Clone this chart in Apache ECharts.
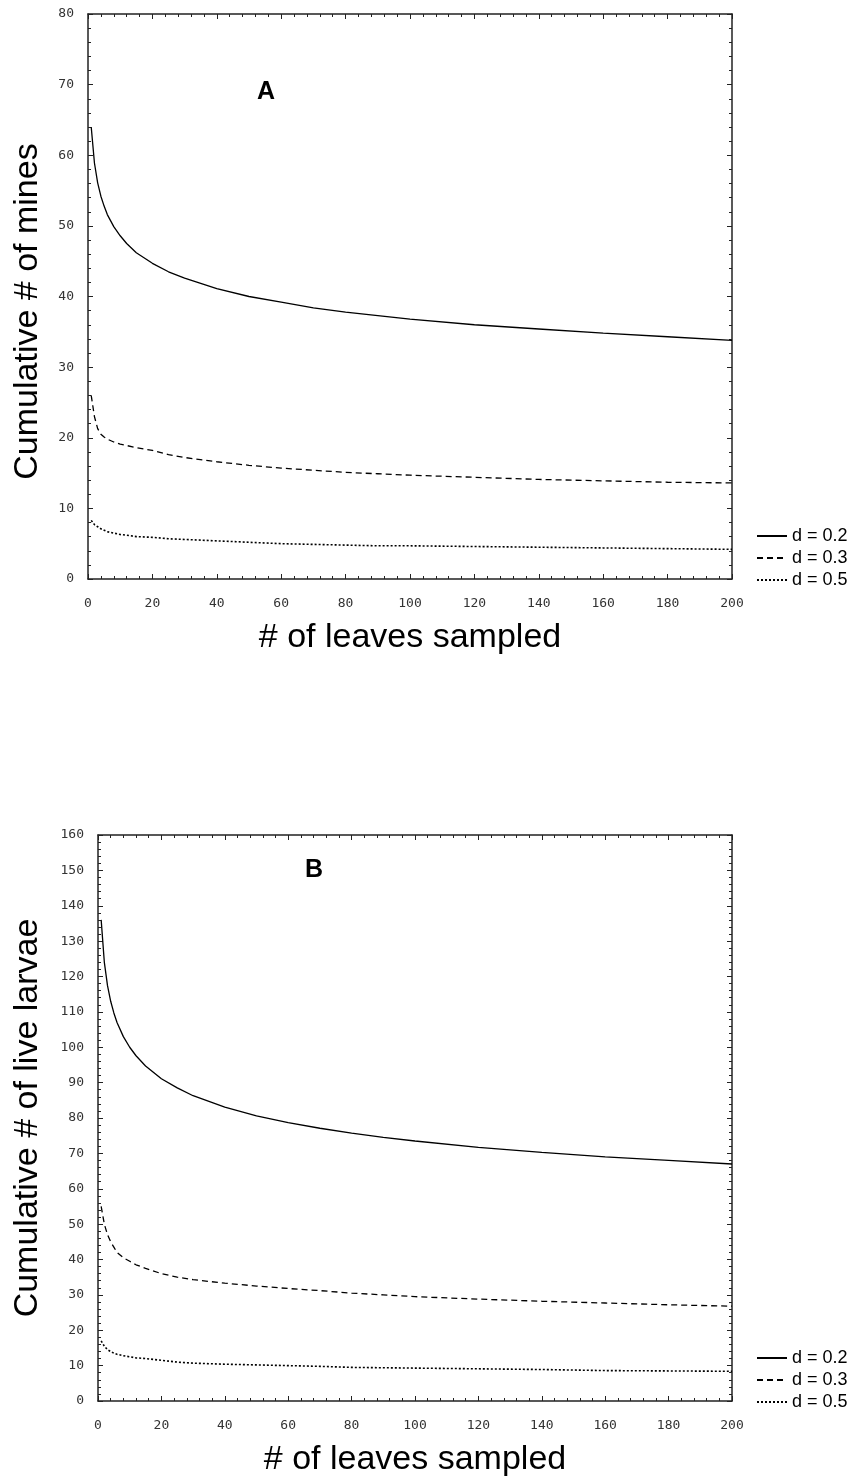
<!DOCTYPE html>
<html>
<head>
<meta charset="utf-8">
<title>Cumulative mines / larvae</title>
<script src="https://cdn.jsdelivr.net/npm/echarts@6/dist/echarts.min.js"></script>
<style>
  html, body { margin: 0; padding: 0; background: #fff; }
  #chart { width: 859px; height: 1479px; }
</style>
</head>
<body>
<div id="chart"></div>
<script>
// x: number of leaves sampled
var leaves = [1, 2, 3, 4, 5, 6, 8, 10, 12, 15, 20, 25, 30, 40, 50, 60, 70, 80, 90, 100, 120, 140, 160, 180, 200];

// panel A - cumulative # of mines
var minesD02 = [64.0, 58.9, 56.1, 54.2, 52.8, 51.6, 49.9, 48.6, 47.5, 46.2, 44.7, 43.5, 42.6, 41.1, 40.0, 39.2, 38.4, 37.8, 37.3, 36.8, 36.0, 35.4, 34.8, 34.3, 33.8];
var minesD03 = [26.0, 23.0, 21.3, 20.5, 20.1, 19.8, 19.4, 19.1, 18.9, 18.6, 18.2, 17.6, 17.2, 16.6, 16.1, 15.7, 15.4, 15.1, 14.9, 14.7, 14.4, 14.1, 13.9, 13.7, 13.6];
var minesD05 = [8.3, 7.7, 7.4, 7.1, 6.9, 6.7, 6.5, 6.3, 6.2, 6.0, 5.9, 5.7, 5.6, 5.4, 5.2, 5.0, 4.9, 4.8, 4.7, 4.7, 4.6, 4.5, 4.4, 4.3, 4.2];

// panel B - cumulative # of live larvae
var larvaeD02 = [136.0, 124.0, 117.4, 113.0, 109.7, 107.0, 103.0, 100.0, 97.6, 94.7, 91.1, 88.5, 86.3, 83.1, 80.6, 78.7, 77.1, 75.7, 74.5, 73.5, 71.7, 70.3, 69.0, 68.0, 67.0];
var larvaeD03 = [55, 50, 47, 45, 43.5, 42, 40.5, 39.5, 38.5, 37.5, 36, 35, 34.3, 33.3, 32.5, 31.8, 31.2, 30.5, 30.0, 29.5, 28.8, 28.2, 27.7, 27.2, 26.8];
var larvaeD05 = [17, 15.5, 14.5, 14, 13.5, 13.2, 12.8, 12.5, 12.2, 12.0, 11.5, 11.0, 10.7, 10.4, 10.2, 10.0, 9.8, 9.5, 9.4, 9.3, 9.1, 8.9, 8.6, 8.5, 8.4];

var seriesNames = ['d = 0.2', 'd = 0.3', 'd = 0.5'];

function pairs(xs, ys) {
  return xs.map(function (x, i) { return [x, ys[i]]; });
}

var axisColor = '#222';
var tickFont = { fontFamily: 'DejaVu Sans Mono', fontSize: 13, color: '#333' };

// line styles: solid / dashed / dotted
var styles = [
  { color: '#000', width: 1.3, type: 'solid' },
  { color: '#000', width: 1.3, type: [6, 4] },
  { color: '#000', width: 1.6, type: [2, 2] }
];

function xAxisPair(gridIndex) {
  var base = {
    type: 'value', gridIndex: gridIndex, min: 0, max: 200, interval: 20,
    splitLine: { show: false },
    axisLine: { show: true, onZero: false, lineStyle: { color: axisColor, width: 1.5 } },
    axisTick: { show: true, inside: true, length: 5, lineStyle: { color: axisColor } },
    minorTick: { show: true, splitNumber: 5, length: 3, lineStyle: { color: axisColor } }
  };
  var bottom = Object.assign({}, base, {
    position: 'bottom',
    axisLabel: Object.assign({ margin: 18 }, tickFont),
    name: '# of leaves sampled',
    nameLocation: 'middle',
    nameGap: 42,
    nameTextStyle: { fontFamily: 'Liberation Sans', fontSize: 34, color: '#000' }
  });
  var top = Object.assign({}, base, { position: 'top', axisLabel: { show: false } });
  return [bottom, top];
}

function yAxisPair(gridIndex, max, name, gap, shift) {
  var base = {
    type: 'value', gridIndex: gridIndex, min: 0, max: max, interval: 10,
    splitLine: { show: false },
    axisLine: { show: true, onZero: false, lineStyle: { color: axisColor, width: 1.5 } },
    axisTick: { show: true, inside: true, length: 5, lineStyle: { color: axisColor } },
    minorTick: { show: true, splitNumber: 5, length: 3, lineStyle: { color: axisColor } }
  };
  var left = Object.assign({}, base, {
    position: 'left',
    axisLabel: Object.assign({ margin: 14 }, tickFont),
    name: name,
    nameLocation: 'middle',
    nameGap: gap,
    // right padding pushes the rotated title down a bit
    nameTextStyle: { fontFamily: 'Liberation Sans', fontSize: 34, color: '#000', padding: [0, shift, 0, 0] }
  });
  var right = Object.assign({}, base, { position: 'right', axisLabel: { show: false } });
  return [left, right];
}

function makeSeries(gridIdx, dataList) {
  return dataList.map(function (ys, i) {
    return {
      name: seriesNames[i],
      type: 'line',
      xAxisIndex: gridIdx * 2,
      yAxisIndex: gridIdx * 2,
      symbol: 'none',
      smooth: false,
      lineStyle: styles[i],
      itemStyle: { color: '#000' },
      data: pairs(leaves, ys)
    };
  });
}

var legendText = { fontFamily: 'Liberation Sans', fontSize: 18, color: '#000' };

function makeLegend(top) {
  return {
    data: seriesNames, orient: 'vertical', left: 756, top: top, padding: 0,
    itemWidth: 30, itemHeight: 14, itemGap: 4, textStyle: legendText,
    itemStyle: { opacity: 0 }   // hide the symbol, keep the line
  };
}

var chart = echarts.init(document.getElementById('chart'), null, { renderer: 'canvas' });

chart.setOption({
  backgroundColor: '#fff',
  animation: false,
  title: [
    { text: 'A', left: 257, top: 80, padding: 0,
      textStyle: { fontFamily: 'Liberation Sans', fontWeight: 'bold', fontSize: 25, color: '#000' } },
    { text: 'B', left: 305, top: 858, padding: 0,
      textStyle: { fontFamily: 'Liberation Sans', fontWeight: 'bold', fontSize: 25, color: '#000' } }
  ],
  legend: [makeLegend(527), makeLegend(1349)],
  grid: [
    { left: 88, right: 127, top: 14, height: 565 },
    { left: 98, right: 127, top: 835, height: 566 }
  ],
  xAxis: xAxisPair(0).concat(xAxisPair(1)),
  yAxis: yAxisPair(0, 80, 'Cumulative # of mines', 43, 30)
    .concat(yAxisPair(1, 160, 'Cumulative # of live larvae', 53, 0)),
  series: makeSeries(0, [minesD02, minesD03, minesD05])
    .concat(makeSeries(1, [larvaeD02, larvaeD03, larvaeD05]))
});
</script>
</body>
</html>
